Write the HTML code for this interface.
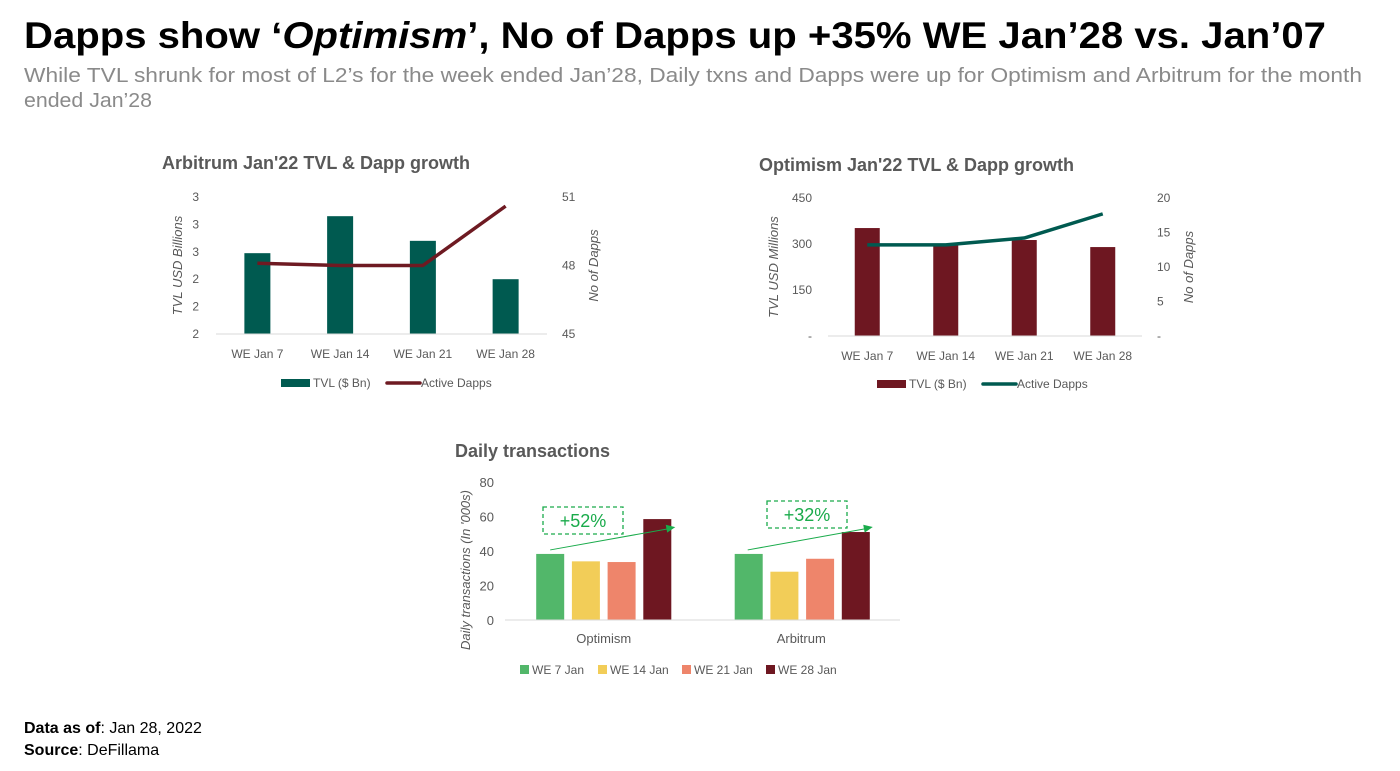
<!DOCTYPE html>
<html><head><meta charset="utf-8"><style>
body{margin:0;background:#fff;}
svg{display:block;font-family:"Liberation Sans",sans-serif;}
</style></head><body>
<svg id="root" width="1400" height="771" viewBox="0 0 1400 771">
<text x="24" y="48" font-size="37" font-weight="bold" fill="#000" textLength="1302" lengthAdjust="spacingAndGlyphs">Dapps show ‘<tspan font-style="italic">Optimism</tspan>’, No of Dapps up +35% WE Jan’28 vs. Jan’07</text>
<text x="24" y="82" font-size="20" fill="#8a8a8a" textLength="1338" lengthAdjust="spacingAndGlyphs">While TVL shrunk for most of L2’s for the week ended Jan’28, Daily txns and Dapps were up for Optimism and Arbitrum for the month</text>
<text x="24" y="107" font-size="20" fill="#8a8a8a" textLength="128" lengthAdjust="spacingAndGlyphs">ended Jan’28</text>

<text x="162" y="169" font-size="18" font-weight="bold" fill="#595959">Arbitrum Jan'22 TVL &amp; Dapp growth</text>
<text x="759" y="171" font-size="18" font-weight="bold" fill="#595959">Optimism Jan'22 TVL &amp; Dapp growth</text>
<text x="455" y="457" font-size="18" font-weight="bold" fill="#595959">Daily transactions</text>

<g id="arb"></g>
<g id="opt"></g>
<g id="txn"></g>

<text x="24" y="733" font-size="16" fill="#000"><tspan font-weight="bold">Data as of</tspan>: Jan 28, 2022</text>
<text x="24" y="755" font-size="16" fill="#000"><tspan font-weight="bold">Source</tspan>: DeFillama</text>
</svg>
<script>
const NS="http://www.w3.org/2000/svg";
// Arbitrum data
const weeks=["WE Jan 7","WE Jan 14","WE Jan 21","WE Jan 28"];
const arbTvl=[2.59,2.86,2.68,2.40];
const arbDapps=[48.1,48.0,48.0,50.6];
const arbLeftTicks=[2.0,2.2,2.4,2.6,2.8,3.0];
const arbLeftLabels=["2","2","2","3","3","3"];
const arbRightTicks=[45,48,51];
// Optimism data
const optTvl=[352,297,313,290];
const optDapps=[13.2,13.2,14.2,17.7];
const optLeftTicks=[0,150,300,450];
const optLeftLabels=["-","150","300","450"];
const optRightTicks=[0,5,10,15,20];
const optRightLabels=["-","5","10","15","20"];
// Daily transactions
const txnGroups=["Optimism","Arbitrum"];
const txnSeries=["WE 7 Jan","WE 14 Jan","WE 21 Jan","WE 28 Jan"];
const txnOptimism=[38.3,34,33.6,58.5];
const txnArbitrum=[38.3,28,35.5,51];
const txnTicks=[0,20,40,60,80];
const txnGrowth=["+52%","+32%"];

function el(parent,tag,attrs,text){const e=document.createElementNS(NS,tag);for(const k in attrs)e.setAttribute(k,attrs[k]);if(text!==undefined)e.textContent=text;parent.appendChild(e);return e;}
const gray="#595959";

function dual(g,o){
  const {x0,x1,y0,y1,lmin,lmax,rmin,rmax,tvl,dapps,lt,ll,rt,rl,barColor,lineColor,bw,leftTitle,leftTitleX,rightLabelX,leftLabelX,legendY,legendX}=o;
  const ly=v=>y0-(v-lmin)/(lmax-lmin)*(y0-y1);
  const ry=v=>y0-(v-rmin)/(rmax-rmin)*(y0-y1);
  const cw=(x1-x0)/weeks.length;
  const cx=i=>x0+cw*(i+0.5);
  lt.forEach((t,i)=>{const e=el(g,"text",{x:leftLabelX,y:ly(t)+4,"font-size":12,fill:gray,"text-anchor":"end"},ll[i]);
    
    });
  rt.forEach((t,i)=>{const e=el(g,"text",{x:rightLabelX,y:ry(t)+4,"font-size":12,fill:gray},rl?rl[i]:String(t));
    
    });
  tvl.forEach((v,i)=>{const r=el(g,"rect",{x:cx(i)-bw/2,y:ly(v),width:bw,height:y0-ly(v),fill:barColor});
    
    });
  const ax=el(g,"line",{x1:x0,x2:x1,y1:y0,y2:y0,stroke:"#d9d9d9","stroke-width":1});
  
  
  weeks.forEach((w,i)=>{const t=el(g,"text",{x:cx(i),y:y0+24,"font-size":12,fill:gray,"text-anchor":"middle"},w);
    
    });
  const pl=el(g,"polyline",{points:dapps.map((v,i)=>cx(i)+","+ry(v)).join(" "),fill:"none",stroke:lineColor,"stroke-width":3.5,"stroke-linejoin":"round"});
  
  
  const my=(y0+y1)/2;
  const lt1=el(g,"text",{x:0,y:0,"font-size":13,"font-style":"italic",fill:gray,"text-anchor":"middle",transform:`translate(${leftTitleX},${my}) rotate(-90)`},leftTitle);
  
  
  const rt1=el(g,"text",{x:0,y:0,"font-size":13,"font-style":"italic",fill:gray,"text-anchor":"middle",transform:`translate(${rightLabelX+36},${my}) rotate(-90)`},"No of Dapps");
  
  
  const lg=el(g,"g",{});
  
  
  el(lg,"rect",{x:legendX,y:legendY-4,width:29,height:8,fill:barColor});
  el(lg,"text",{x:legendX+32,y:legendY+4,"font-size":12,fill:gray},"TVL ($ Bn)");
  el(lg,"line",{x1:legendX+106,x2:legendX+139,y1:legendY,y2:legendY,stroke:lineColor,"stroke-width":3.5,"stroke-linecap":"round"});
  el(lg,"text",{x:legendX+140,y:legendY+4,"font-size":12,fill:gray},"Active Dapps");
}
dual(document.getElementById("arb"),{x0:216,x1:547,y0:334,y1:197,lmin:2,lmax:3,rmin:45,rmax:51,tvl:arbTvl,dapps:arbDapps,lt:arbLeftTicks,ll:arbLeftLabels,rt:arbRightTicks,rl:null,barColor:"#005a50",lineColor:"#6e1a22",bw:26,leftTitle:"TVL USD Billions",leftTitleX:182,rightLabelX:562,leftLabelX:199,legendY:383,legendX:281});
dual(document.getElementById("opt"),{x0:828,x1:1142,y0:336,y1:198,lmin:0,lmax:450,rmin:0,rmax:20,tvl:optTvl,dapps:optDapps,lt:optLeftTicks,ll:optLeftLabels,rt:optRightTicks,rl:optRightLabels,barColor:"#6e1721",lineColor:"#005a50",bw:25,leftTitle:"TVL USD Millions",leftTitleX:778,rightLabelX:1157,leftLabelX:812,legendY:384,legendX:877});

// Daily transactions
(function(){
  const g=document.getElementById("txn");
  const x0=505,x1=900,y0=620,y1=482;
  const y=v=>y0-v/80*(y0-y1);
  const colors=["#52b76a","#f2cd58","#ee856b","#6e1721"];
  const gw=(x1-x0)/txnGroups.length;
  const data=[txnOptimism,txnArbitrum];
  const bw=28,step=35.7;
  txnTicks.forEach(t=>{const e=el(g,"text",{x:494,y:y(t)+5,"font-size":13,fill:gray,"text-anchor":"end"},String(t));
    
    });
  data.forEach((vals,gi)=>{
    const gc=x0+gw*(gi+0.5);
    vals.forEach((v,si)=>{const bx=gc-1.5*step+si*step-bw/2+(gi===0?0:1);
      const r=el(g,"rect",{x:bx,y:y(v),width:bw,height:y0-y(v),fill:colors[si]});
      
      });
    const t=el(g,"text",{x:gc,y:y0+23,"font-size":13,fill:gray,"text-anchor":"middle"},txnGroups[gi]);
    
    
    const first=vals[0],last=vals[3];
    const ax1=gc-1.5*step-bw/2+14, ax2=gc+1.5*step+bw/2+4;
    const ay1=y(first)-4, ay2=y(last)+ (gi===0?8:-5);
    const ln=el(g,"line",{x1:ax1,y1:ay1,x2:ax2-6,y2:ay2+1.5,stroke:"#1aab4b","stroke-width":1});
    
    
    const ang=Math.atan2(ay2-ay1,ax2-ax1);
    const hx=ax2,hy=ay2,L=9,W=4;
    const p=[[hx,hy],[hx-L*Math.cos(ang)+W*Math.sin(ang),hy-L*Math.sin(ang)-W*Math.cos(ang)],[hx-L*Math.cos(ang)-W*Math.sin(ang),hy-L*Math.sin(ang)+W*Math.cos(ang)]];
    const ah=el(g,"polygon",{points:p.map(q=>q.join(",")).join(" "),fill:"#1aab4b"});
    
    
    const bx=gi===0?543:767, by=gi===0?507:501;
    const box=el(g,"rect",{x:bx,y:by,width:80,height:27,fill:"#fff","fill-opacity":0,stroke:"#1aab4b","stroke-width":1.3,"stroke-dasharray":"4,3"});
    
    
    const tx=el(g,"text",{x:bx+40,y:by+20,"font-size":18,fill:"#1aab4b","text-anchor":"middle"},txnGrowth[gi]);
    
    
  });
  const ax=el(g,"line",{x1:x0,x2:x1,y1:y0,y2:y0,stroke:"#d9d9d9","stroke-width":1});
  
  
  const yt=el(g,"text",{x:0,y:0,"font-size":13,"font-style":"italic",fill:gray,"text-anchor":"middle",transform:"translate(470,570) rotate(-90)"},"Daily transactions (In '000s)");
  
  
  const lx=[520,598,682,766];
  txnSeries.forEach((s,i)=>{
    const r=el(g,"rect",{x:lx[i],y:665,width:9,height:9,fill:colors[i]});
    
    
    const t=el(g,"text",{x:lx[i]+12,y:674,"font-size":12,fill:gray},s);
    
    
  });
})();
</script>
</body></html>
